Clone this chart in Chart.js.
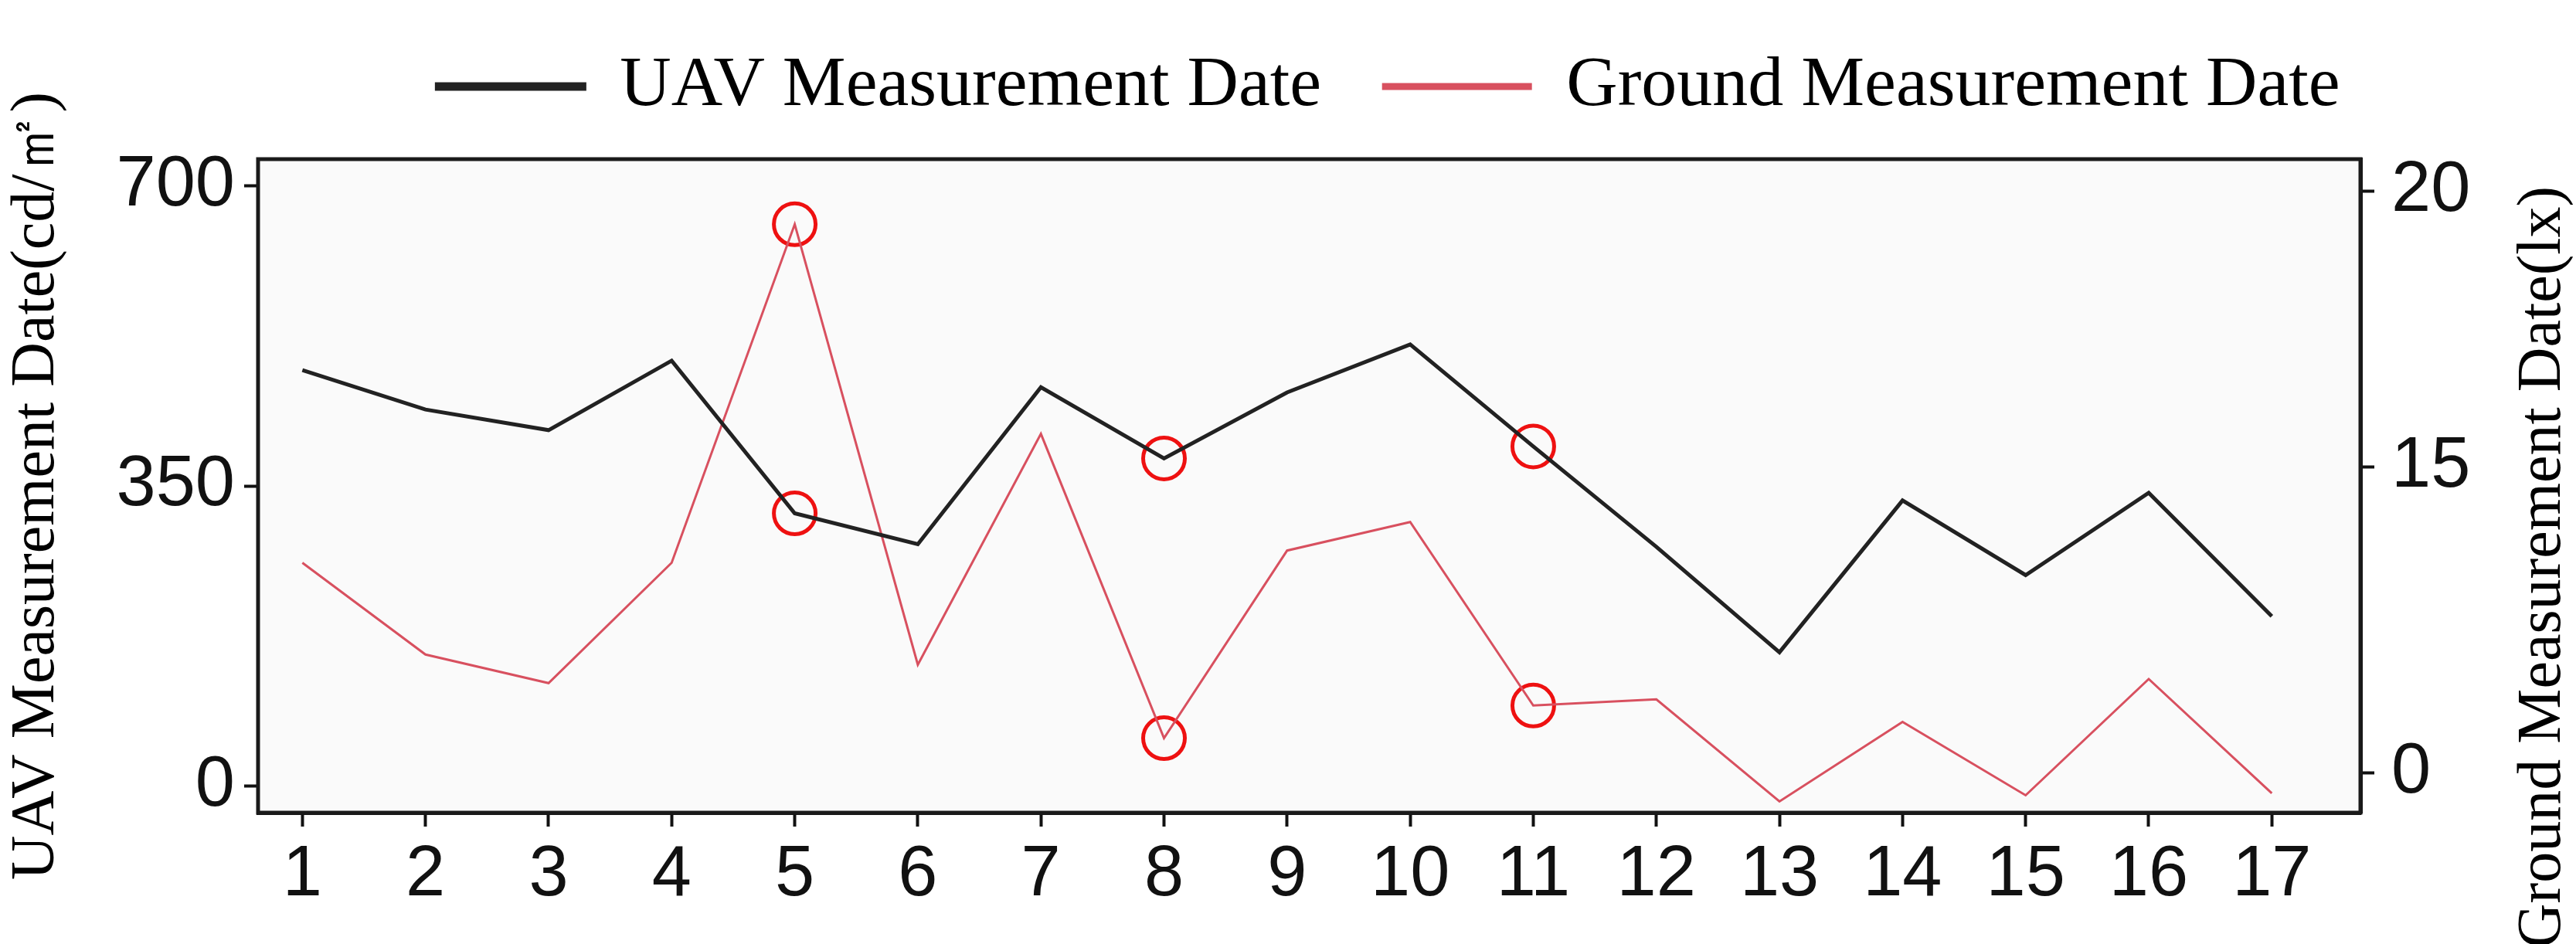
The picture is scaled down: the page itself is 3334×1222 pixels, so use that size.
<!DOCTYPE html>
<html>
<head>
<meta charset="utf-8">
<script src="https://cdn.jsdelivr.net/npm/chart.js@4/dist/chart.umd.min.js"></script>
<style>
  html, body { margin: 0; padding: 0; background: #fff; }
  #wrap { width: 3334px; height: 1222px; }
</style>
</head>
<body>
<div id="wrap"><canvas id="chart" width="3334" height="1222"></canvas></div>
<script>
const samples = [1, 2, 3, 4, 5, 6, 7, 8, 9, 10, 11, 12, 13, 14, 15, 16, 17];
const uavValues = [485, 439, 415, 496, 318, 282, 465, 382, 459, 515, 396, 279, 156, 333, 246, 342, 198];
const groundValues = [10.3, 5.8, 4.4, 10.3, 19.4, 5.3, 15.6, 1.7, 10.9, 12.3, 3.3, 3.6, -1.4, 2.5, -1.1, 4.6, -1.0];
const leftTicks = [0, 350, 700];
const rightTicks = [0, 15, 20];
const circledSamples = [5, 8, 11];
const rightTitle = 'Ground Measurement Date(lx)';

const serif = '"Liberation Serif", "DejaVu Serif", serif';
const narrow = '"Liberation Sans Narrow", "Liberation Sans", Arial, sans-serif';

// the right axis in the source is not linear: 0-15 is squeezed, 15-20 stretched
const knotValues = [-1.95, 0, 15, 20, 20.58];
const knotFracs = [0, 0.061, 0.529, 0.951, 1];

class PiecewiseScale extends Chart.LinearScale {
  frac(v) {
    for (let i = 1; i < knotValues.length; i++) {
      if (v <= knotValues[i] || i === knotValues.length - 1) {
        const a = knotValues[i - 1], b = knotValues[i];
        return knotFracs[i - 1] + (v - a) / (b - a) * (knotFracs[i] - knotFracs[i - 1]);
      }
    }
  }
  getPixelForValue(v) {
    return this.bottom - this.frac(v) * (this.bottom - this.top);
  }
  getValueForPixel(p) {
    const f = (this.bottom - p) / (this.bottom - this.top);
    for (let i = 1; i < knotFracs.length; i++) {
      if (f <= knotFracs[i] || i === knotFracs.length - 1) {
        const a = knotFracs[i - 1], b = knotFracs[i];
        return knotValues[i - 1] + (f - a) / (b - a) * (knotValues[i] - knotValues[i - 1]);
      }
    }
  }
}
PiecewiseScale.id = 'piecewise';
PiecewiseScale.defaults = Chart.LinearScale.defaults;
Chart.register(PiecewiseScale);

const frame = {
  id: 'frame',
  afterInit(chart) {
    const fit = chart.legend.fit;
    chart.legend.fit = function () { fit.call(this); this.height = 200; };
  },
  afterLayout(chart) {
    chart.legend.left += 130;
    chart.legend.right += 130;
    chart.legend.top -= 20;
  },
  beforeDatasetsDraw(chart) {
    const { ctx, chartArea: a } = chart;
    ctx.save();
    ctx.fillStyle = '#fafafa';
    ctx.fillRect(a.left, a.top, a.right - a.left, a.bottom - a.top);
    ctx.restore();
  },
  afterDraw(chart) {
    const { ctx, chartArea: a } = chart;
    ctx.save();
    ctx.strokeStyle = '#1a1a1a';
    ctx.lineWidth = 5;
    ctx.strokeRect(a.left, a.top, a.right - a.left, a.bottom - a.top);
    // right axis title reads bottom-to-top in the source
    const s = chart.scales.y1;
    ctx.translate(s.right - 42, (a.top + chart.height) / 2 + 20);
    ctx.rotate(-Math.PI / 2);
    ctx.fillStyle = '#000';
    ctx.font = '80px ' + serif;
    ctx.textAlign = 'center';
    ctx.textBaseline = 'middle';
    ctx.fillText(rightTitle, 0, 0);
    ctx.restore();
  }
};

const circleData = (values) => circledSamples.map(s => ({ x: s, y: values[samples.indexOf(s)] }));
const pts = (values) => samples.map((s, i) => ({ x: s, y: values[i] }));

const tickStyle = { color: '#111', font: { family: narrow, size: 92 } };
const axisGrid = { drawOnChartArea: false, color: '#111', tickLength: 18, tickWidth: 4 };
const axisBorder = { display: true, color: '#111', width: 5 };

new Chart(document.getElementById('chart'), {
  type: 'line',
  data: {
    datasets: [
      { label: 'UAV Measurement Date', data: pts(uavValues), yAxisID: 'y',
        borderColor: '#222', backgroundColor: '#222', borderWidth: 5, pointRadius: 0, tension: 0 },
      { label: 'Ground Measurement Date', data: pts(groundValues), yAxisID: 'y1',
        borderColor: '#d8505f', backgroundColor: '#d8505f', borderWidth: 3, pointRadius: 0, tension: 0 },
      { label: 'c1', data: circleData(uavValues), yAxisID: 'y', showLine: false,
        pointRadius: 27, pointBorderColor: '#ee1111', pointBorderWidth: 5, pointBackgroundColor: 'rgba(0,0,0,0)' },
      { label: 'c2', data: circleData(groundValues), yAxisID: 'y1', showLine: false,
        pointRadius: 27, pointBorderColor: '#ee1111', pointBorderWidth: 5, pointBackgroundColor: 'rgba(0,0,0,0)' }
    ]
  },
  options: {
    responsive: false,
    devicePixelRatio: 1,
    animation: false,
    layout: { padding: { top: 6, left: 0, right: 0, bottom: 0 } },
    plugins: {
      tooltip: { enabled: false },
      legend: {
        position: 'top',
        labels: {
          filter: item => item.datasetIndex < 2,
          color: '#000',
          font: { family: serif, size: 92 },
          boxWidth: 191, boxHeight: 6, padding: 80
        }
      }
    },
    scales: {
      x: {
        type: 'linear', min: 0.64, max: 17.72,
        afterBuildTicks: s => { s.ticks = samples.map(v => ({ value: v })); },
        afterFit: s => { s.height = 170; },
        ticks: { ...tickStyle, padding: 8, maxRotation: 0, autoSkip: false },
        grid: axisGrid, border: axisBorder
      },
      y: {
        position: 'left', min: -31, max: 731,
        afterBuildTicks: s => { s.ticks = leftTicks.map(v => ({ value: v })); },
        afterFit: s => { s.width = 334; },
        ticks: { ...tickStyle, padding: 12 },
        grid: axisGrid, border: axisBorder,
        title: { display: true, text: 'UAV Measurement Date(cd/㎡)', color: '#000',
                 font: { family: serif, size: 80 }, padding: 0 }
      },
      y1: {
        type: 'piecewise', position: 'right', min: -1.95, max: 20.58,
        afterBuildTicks: s => { s.ticks = rightTicks.map(v => ({ value: v })); },
        afterFit: s => { s.width = 279; },
        ticks: { ...tickStyle, padding: 22 },
        grid: axisGrid, border: axisBorder
      }
    }
  },
  plugins: [frame]
});
</script>
</body>
</html>
